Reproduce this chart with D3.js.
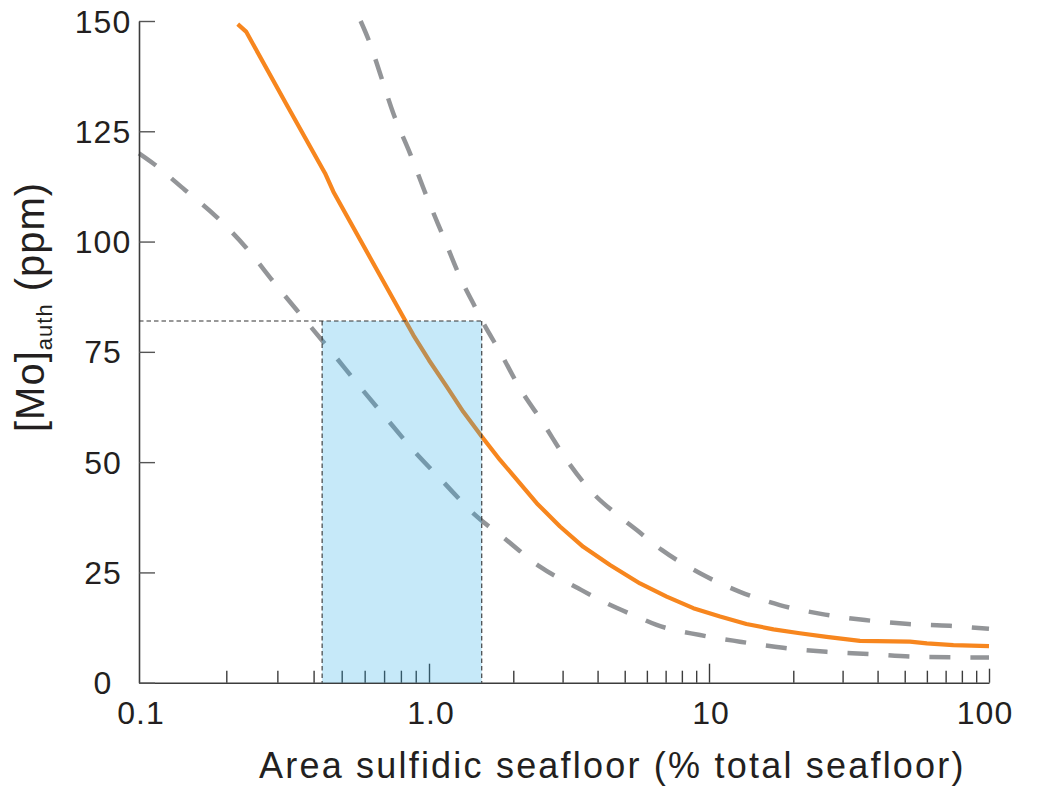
<!DOCTYPE html>
<html>
<head>
<meta charset="utf-8">
<script src="https://cdn.jsdelivr.net/npm/d3@7"></script>
<style>
  html, body { margin: 0; padding: 0; background: #fff; }
  svg { display: block; }
  text { font-family: "Liberation Sans", Arial, Helvetica, sans-serif; fill: #231f20; }
</style>
</head>
<body>
<svg id="chart" width="1037" height="786"></svg>
<script>
// Authigenic Mo vs. extent of sulfidic seafloor (model best estimate + envelope)
const modelBest = [
  [0.219,149.3],[0.234,147.6],[0.3212,131.3],[0.438,115.5],[0.468,111.3],[0.626,96.4],
  [0.826,82.2],[0.883,78.8],[1.0,73.1],[1.157,67.1],[1.326,61.4],[1.543,55.8],
  [1.793,50.5],[2.113,45.2],[2.425,40.7],[2.937,35.4],[3.556,30.8],[4.43,26.7],
  [5.67,22.5],[7.06,19.5],[8.79,16.9],[10.95,15.0],[13.6,13.3],[17.0,12.1],
  [21.1,11.2],[26.3,10.4],[34.6,9.5],[52.2,9.3],[60,8.9],[74.6,8.5],[100,8.3]
];
const modelUpper = [
  [0.581,150],[0.626,144.9],[0.678,138.1],[0.753,129.1],[0.860,120.0],[0.982,110.2],
  [1.125,101.1],[1.29,92.0],[1.479,84.5],[1.543,82.2],[1.793,75.0],[2.113,66.7],
  [2.56,58.8],[3.10,50.5],[3.86,42.9],[4.81,37.6],[5.52,34.6],[6.78,30.1],
  [9.29,24.8],[12.9,20.6],[17.9,17.6],[25.1,15.6],[36.1,14.2],[51.6,13.3],
  [72.5,12.9],[100,12.2]
];
const modelLower = [
  [0.1,120],[0.112,117.7],[0.144,111.7],[0.185,105.6],[0.235,98.5],[0.294,90.5],
  [0.374,82.2],[0.456,75.4],[0.571,67.5],[0.705,60.3],[0.883,52.7],[1.11,45.9],
  [1.44,38.4],[1.895,32.3],[2.49,26.3],[3.41,21.4],[4.31,18.0],[5.52,15.0],
  [6.5,13.1],[9.29,10.8],[12.9,9.3],[18.4,7.9],[26.3,7.0],[37.6,6.5],
  [53.7,5.9],[76.6,5.75],[100,5.7]
];

// Shaded window: observed Mo level and the corresponding sulfidic-area range
const moObserved = 82;
const areaRange = [0.428, 1.543];

const xTickValues = [0.1, 1, 10, 100];
const xTickLabels = ["0.1", "1.0", "10", "100"];
const xMinorValues = [0.2,0.3,0.4,0.5,0.6,0.7,0.8,0.9, 2,3,4,5,6,7,8,9, 20,30,40,50,60,70,80,90];
const yTickValues = [0, 25, 50, 75, 100, 125, 150];
const yTickLabels = ["0", "25", "50", "75", "100", "125", "150"];

const svg = d3.select("#chart");

const x = d3.scaleLog().domain([0.1, 1, 100]).range([139, 429, 989]);
const y = d3.scaleLinear().domain([0, 150]).range([682.7, 21]);

const smoothLine = d3.line()
  .x(d => x(d[0]))
  .y(d => y(d[1]))
  .curve(d3.curveMonotoneX);
const plainLine = d3.line()
  .x(d => x(d[0]))
  .y(d => y(d[1]));

// envelope curves
[modelUpper, modelLower].forEach(series => {
  svg.append("path")
    .datum(series)
    .attr("d", smoothLine)
    .attr("fill", "none")
    .attr("stroke", "#939598")
    .attr("stroke-width", 4.5)
    .attr("stroke-dasharray", "21 20");
});

// best-estimate curve
svg.append("path")
  .datum(modelBest)
  .attr("d", plainLine)
  .attr("fill", "none")
  .attr("stroke", "#f7861e")
  .attr("stroke-width", 4.2)
  .attr("stroke-linejoin", "round");

// axes
const axisColor = "#3c3c3c";
const gx = svg.append("g").attr("transform", `translate(0,${y(0)})`);
gx.append("g")
  .call(d3.axisBottom(x).tickValues(xMinorValues).tickSize(-12).tickSizeOuter(0).tickFormat(""));
gx.append("g")
  .call(d3.axisBottom(x).tickValues([1, 10]).tickSize(-19).tickSizeOuter(0).tickFormat(""))
  .select(".domain").remove();
gx.append("g")
  .call(d3.axisBottom(x).tickValues([100]).tickSize(-14).tickSizeOuter(0).tickFormat(""))
  .select(".domain").remove();
gx.selectAll(".domain").attr("stroke", axisColor).attr("stroke-width", 1.6);
gx.selectAll(".tick line").attr("stroke", axisColor).attr("stroke-width", 1.4);

const gy = svg.append("g").attr("transform", `translate(${x(0.1)},0)`);
gy.call(d3.axisLeft(y).tickValues(yTickValues).tickSize(-16).tickSizeOuter(0).tickFormat(""));
gy.select(".domain").attr("stroke", axisColor).attr("stroke-width", 1.6);
gy.selectAll(".tick line").attr("stroke", "#555").attr("stroke-width", 1.4);

// tick labels
const lastX = xTickValues.length - 1;
svg.append("g").selectAll("text")
  .data(xTickValues)
  .join("text")
  .attr("x", (d, i) => x(d) + (i === lastX ? -4 : 2))
  .attr("y", 724)
  .attr("text-anchor", "middle")
  .attr("font-size", 32)
  .attr("letter-spacing", 1)
  .text((d, i) => xTickLabels[i]);

svg.append("g").selectAll("text")
  .data(yTickValues)
  .join("text")
  .attr("x", 103)
  .attr("y", d => y(d) + 11.5)
  .attr("text-anchor", "middle")
  .attr("font-size", 32)
  .attr("letter-spacing", 1)
  .text((d, i) => yTickLabels[i]);

// shaded window and its guide lines
svg.append("rect")
  .attr("x", x(areaRange[0]))
  .attr("y", y(moObserved))
  .attr("width", x(areaRange[1]) - x(areaRange[0]))
  .attr("height", y(0) - y(moObserved))
  .attr("fill", "#1ca8e8")
  .attr("fill-opacity", 0.25);

const guide = svg.append("g")
  .attr("stroke", "#333")
  .attr("stroke-width", 1.1)
  .attr("stroke-dasharray", "4.5 3")
  .attr("fill", "none");
guide.append("line")
  .attr("x1", x(0.1)).attr("x2", x(areaRange[1]))
  .attr("y1", y(moObserved)).attr("y2", y(moObserved));
areaRange.forEach(v => {
  guide.append("line")
    .attr("x1", x(v)).attr("x2", x(v))
    .attr("y1", y(moObserved)).attr("y2", y(0));
});

// axis titles
svg.append("text")
  .attr("x", 259)
  .attr("y", 778)
  .attr("font-size", 36)
  .attr("letter-spacing", 1.5)
  .attr("textLength", 706)
  .attr("lengthAdjust", "spacing")
  .text("Area sulfidic seafloor (% total seafloor)");

const yt = svg.append("text")
  .attr("transform", "translate(44,432) rotate(-90)")
  .attr("font-size", 40)
  .attr("letter-spacing", 1);
yt.append("tspan").text("[Mo]");
yt.append("tspan").attr("font-size", 22).attr("dy", 8).attr("letter-spacing", 1).text("auth");
yt.append("tspan").attr("dy", -8).text(" (ppm)");
</script>
</body>
</html>
